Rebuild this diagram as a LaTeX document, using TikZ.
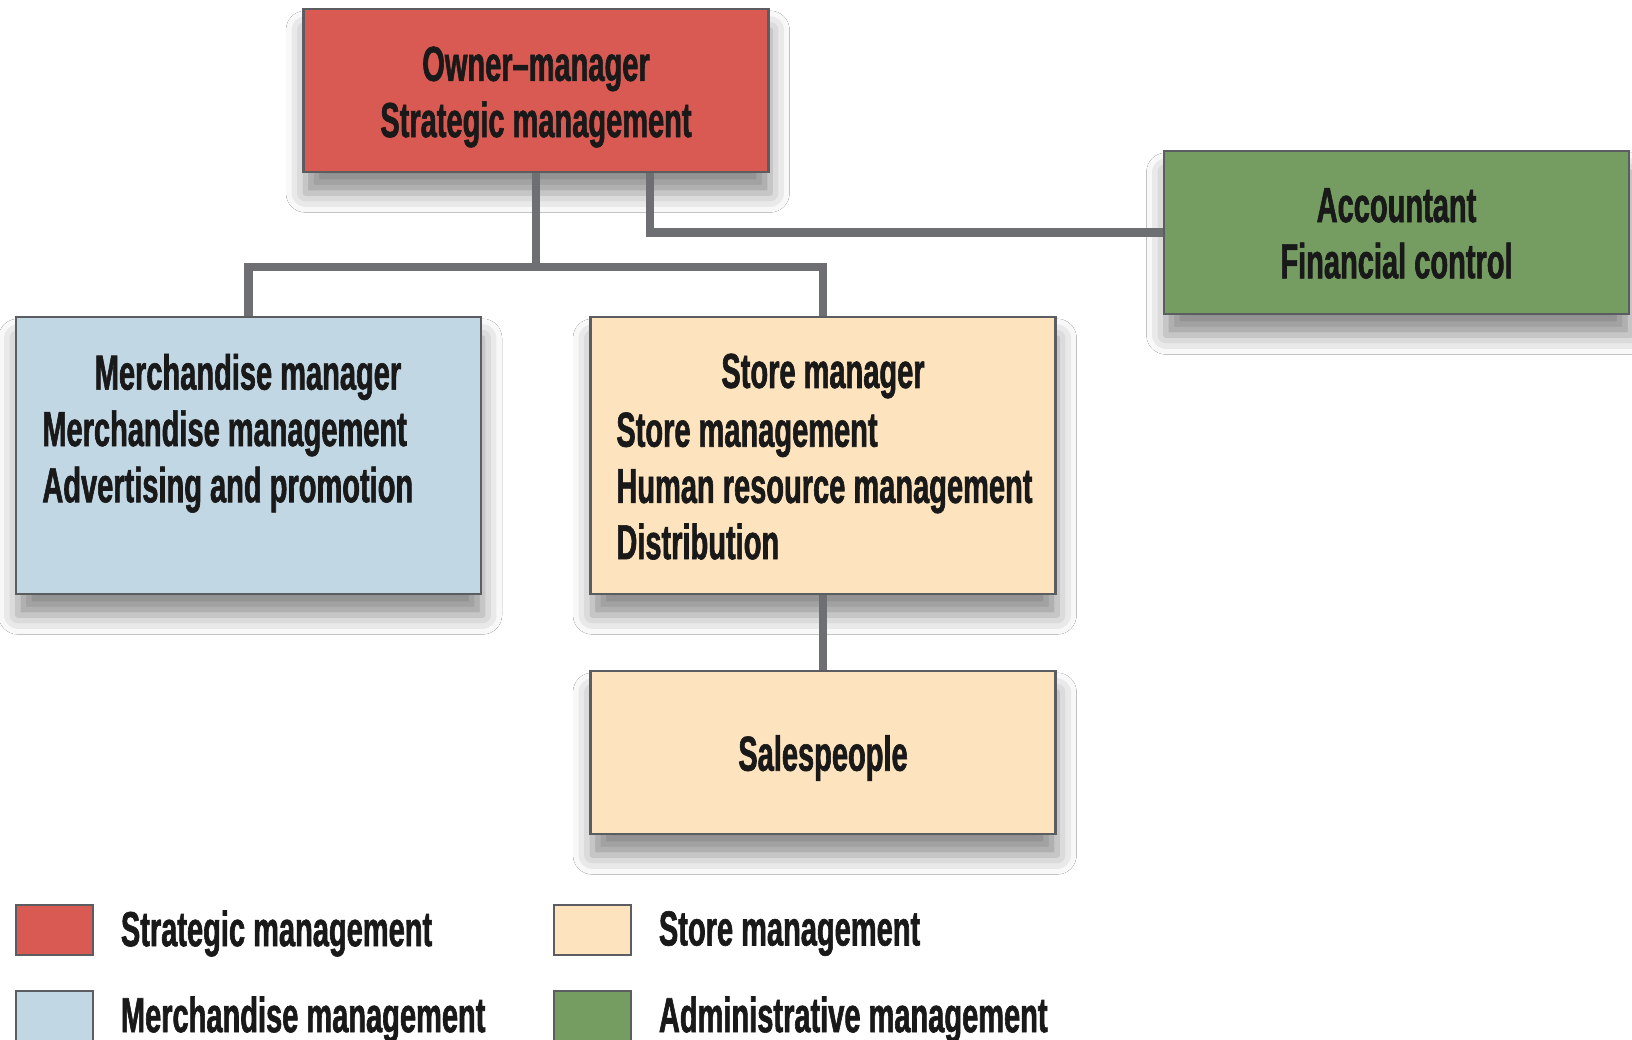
\documentclass[tikz,border=0pt]{standalone}
\usepackage{fontspec}
\setmainfont{Liberation Sans}[FakeStretch=0.59,BoldFeatures={FakeBold=1.2}]
\usetikzlibrary{positioning,calc,shadows.blur}
\newcommand\px{0.569pt}
\definecolor{stratred}{HTML}{D85A52}
\definecolor{merchblue}{HTML}{C2D7E4}
\definecolor{storebeige}{HTML}{FDE4BE}
\definecolor{admingreen}{HTML}{759D62}
\definecolor{boxline}{HTML}{5B5D60}
\definecolor{linkgray}{HTML}{6E6F72}
\tikzset{
	box/.style={draw=boxline,line width=1.4pt,minimum width=465*\px,inner sep=0pt,
		blur shadow={shadow xshift=1pt,shadow yshift=-12pt,shadow blur radius=11pt,shadow opacity=45}},
	shortbox/.style={box,minimum height=163*\px},
	tallbox/.style={box,minimum height=277*\px},
	txt/.style={inner sep=0pt,text=black!90,font=\bfseries\fontsize{28}{32}\selectfont},
	legsq/.style={draw=boxline,line width=1.4pt,minimum width=77*\px,minimum height=50*\px,inner sep=0pt},
	link/.style={draw=linkgray,line width=4.6pt}
}
\begin{document}
\begin{tikzpicture}[x=0.02cm,y=-0.02cm]
		\useasboundingbox[fill=white](0,0)rectangle(1632,1040);
		\node[shortbox,fill=stratred](owner) at (536,90.5) {};
		\node[shortbox,fill=admingreen](acct) at (1396.5,232.5) {};
		\node[tallbox,fill=merchblue](merch) at (248.5,455.5) {};
		\node[tallbox,fill=storebeige](store) at (823,455.5) {};
		\node[shortbox,fill=storebeige](sales) at (823,752.5) {};
		\draw[link](owner.south)--($(owner.south)+(0,94)$)-|(merch.north);
		\draw[link]($(owner.south)+(0,94)$)-|(store.north);
		\draw[link]($(owner.south)+(114,0)$)|-(acct.west);
		\draw[link](store.south)--(sales.north);
		\node[txt,align=center] (ownertxt) at (536,97) {Owner--manager\\Strategic management};
		\node[txt,align=center] (accttxt) at (1396.5,233.5) {Accountant\\Financial control};
		\node[txt] (merchtitle) at (248,377) {Merchandise manager};
		\node[txt,align=left,anchor=west] (merchtxt) at (42,461.5) {Merchandise management\\Advertising and promotion};
		\node[txt] (storetitle) at (823,376) {Store manager};
		\node[txt,align=left,anchor=west] (storetxt) at (616,486) {Store management\\Human resource management\\Distribution};
		\node[txt] (salestxt) at (823,758) {Salespeople};
		\node[legsq,fill=stratred](legstrat) at (54.5,930) {};
		\node[legsq,fill=merchblue](legmerch) at (54.5,1016) {};
		\node[legsq,fill=storebeige](legstore) at (592.5,930) {};
		\node[legsq,fill=admingreen](legadmin) at (592.5,1016) {};
		\node[txt,right=15pt of legstrat,yshift=-2pt] {Strategic management};
		\node[txt,right=15pt of legmerch,yshift=-2pt] {Merchandise management};
		\node[txt,right=15pt of legstore,yshift=-2pt] {Store management};
		\node[txt,right=15pt of legadmin,yshift=-2pt] {Administrative management};
\end{tikzpicture}
\end{document}
